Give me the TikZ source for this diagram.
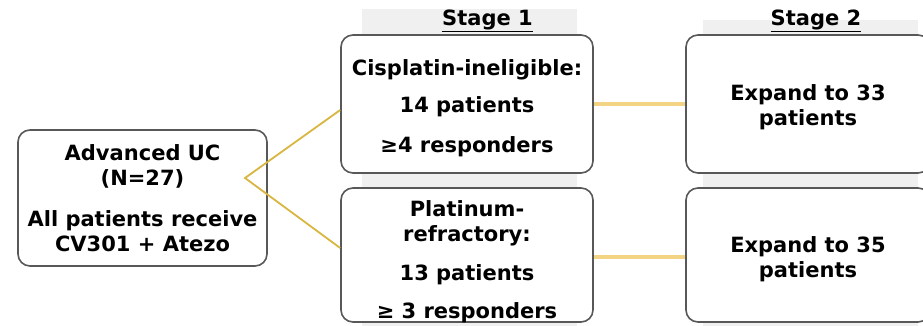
\documentclass[tikz,border=0pt]{standalone}
\usepackage{fontspec}
\setmainfont{DejaVu Sans}
\usetikzlibrary{positioning}

\definecolor{bandgray}{RGB}{240,240,240}
\definecolor{framegray}{RGB}{88,88,88}
\definecolor{forkgold}{RGB}{216,182,64}
\definecolor{linkgold}{RGB}{242,212,132}

\begin{document}
\begin{tikzpicture}[x=1pt,y=-1pt,
    box/.style={draw=framegray, line width=1.6pt, rounded corners=12pt, fill=white, inner sep=0pt},
    txt/.style={align=center, inner sep=0pt, font=\bfseries\fontsize{21}{25}\selectfont},
    head/.style={inner sep=0pt, font=\bfseries\fontsize{21}{25}\selectfont},
    fork/.style={draw=forkgold, line width=1.8pt},
    link/.style={draw=linkgold, line width=4.5pt}]
  \useasboundingbox (0,0) rectangle (923,325);

  % grey columns behind the stages
  \fill[bandgray] (362,9) rectangle (577,330);
  \fill[bandgray] (703,20) rectangle (918,330);

  \node[head] (h1) at (487.5,21) {\underline{Stage 1}};
  \node[head] (h2) at (816,21) {\underline{Stage 2}};

  % boxes
  \node[box, minimum width=249pt, minimum height=136pt] (uc) at (142.5,198) {};
  \node[box, minimum width=252pt, minimum height=138pt] (cis) at (467,104) {};
  \node[box, minimum width=252pt, minimum height=134pt] (plat) at (467,255) {};
  \node[box, minimum width=244pt, minimum height=138pt] (exp1) at (808,104) {};
  \node[box, minimum width=244pt, minimum height=134pt] (exp2) at (808,255) {};

  % texts
  \node[txt] (uctext) at (uc.center)
    {Advanced UC\\(N=27)\\[16pt]All patients receive\\CV301 + Atezo};
  \node[txt] (cistext) at ([yshift=-4pt]cis.center)
    {Cisplatin-ineligible:\\[12pt]14 patients\\[15pt]≥4 responders};
  \node[txt] (plattext) at ([yshift=-7pt]plat.center)
    {Platinum-\\refractory:\\[14pt]13 patients\\[13pt]≥ 3 responders};
  \node[txt] (exp1text) at ([yshift=-3pt]exp1.center) {Expand to 33\\patients};
  \node[txt] (exp2text) at ([yshift=-4pt]exp2.center) {Expand to 35\\patients};

  \coordinate (split) at (245,178);
  \draw[fork] ([yshift=-6pt]cis.west) -- (split) -- ([yshift=7pt]plat.west);

  \draw[link] (cis.east) -- (exp1.west);
  \draw[link] ([yshift=-2pt]plat.east) -- ([yshift=-2pt]exp2.west);
\end{tikzpicture}
\end{document}
